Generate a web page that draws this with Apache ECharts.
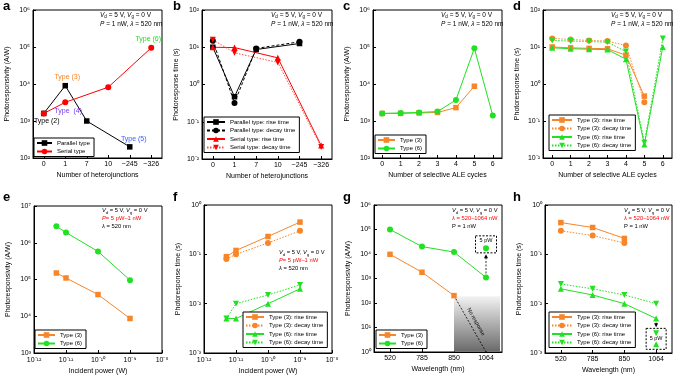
<!DOCTYPE html>
<html><head><meta charset="utf-8">
<script src="https://cdn.jsdelivr.net/npm/echarts@6/dist/echarts.min.js"></script>
<style>html,body{margin:0;padding:0;background:#fff}#c{width:680px;height:382px}</style>
</head><body><div id="c"></div>
<script>
// ---------- DATA ----------
const catsA = ['0', '1', '7', '10', '~245', '~326'];
const aParallel = [1600, 9000, 1000, null, 200, null];
const aSerial = [1600, 3200, null, 8200, null, 95000];
const bParRise = [10, 0.47, 8.7, null, 12.6, null];
const bParDecay = [15, 0.32, 9.3, null, 14, null];
const bSerRise = [10, 9.8, null, 5.2, null, 0.023];
const bSerDecay = [16, 7.1, null, 3.9, null, 0.021];
const catsCD = ['0', '1', '2', '3', '4', '5', '6'];
const cType3 = [1600, 1600, 1650, 1700, 2300, 8700, null];
const cType6 = [1600, 1650, 1700, 1800, 3700, 92000, 1400];
const dT3Rise = [10, 9.5, 9.2, 9, 6, 0.47, null];
const dT3Decay = [17, 16, 15, 14.5, 11, 0.32, null];
const dT6Rise = [9.5, 9, 8.7, 8.5, 4.7, 0.023, 10];
const dT6Decay = [15, 14.5, 14, 13.5, 7.5, 0.026, 17];
const powers = [5e-12, 1e-11, 1e-10, 1e-9];
const eType3 = [1.5e5, 1.1e5, 3.9e4, 8.7e3];
const eType6 = [2.8e6, 1.9e6, 5.8e5, 9.6e4];
const fT3Rise = [0.09, 0.12, 0.23, 0.45];
const fT3Decay = [0.08, 0.10, 0.17, 0.30];
const fT6Rise = [0.005, 0.005, 0.01, 0.02];
const fT6Decay = [0.005, 0.01, 0.015, 0.024];
const waves = ['520', '785', '850', '1064'];
const gType3 = [9700, 1800, 200, null];
const gType6 = [100000, 20000, 12000, 1100];
const gType6Low = [null, null, null, 17000];
const hT3Rise = [0.44, 0.35, 0.21, null];
const hT3Decay = [0.30, 0.24, 0.17, null];
const hT6Rise = [0.02, 0.015, 0.01, 0.005];
const hT6Decay = [0.025, 0.02, 0.015, 0.01];
const hT6RiseLow = [null, null, null, 0.0015];
const hT6DecayLow = [null, null, null, 0.0025];

// ---------- STYLE ----------
const FONT = '"Liberation Sans", Arial, sans-serif';
const ORANGE = '#f7862a', GREEN = '#22e022', RED = '#ff0000', LRED = '#ff5050', BLACK = '#000';
const FS = 7;
const SUP = {'-':'⁻','0':'⁰','1':'¹','2':'²','3':'³','4':'⁴','5':'⁵','6':'⁶','7':'⁷','8':'⁸','9':'⁹'};
const sup = n => String(n).split('').map(c => SUP[c]).join('');
const logFmt = v => '10' + sup(Math.round(Math.log10(v)));

const gridPos = [
  [33, 10, 129, 148], [202, 10, 130, 149], [373, 10, 129, 148], [543, 10, 129, 148],
  [34, 206, 128, 147], [204, 205, 128, 148], [374, 205, 128, 147], [545, 205, 127, 148]
];
const grids = gridPos.map(p => ({left: p[0], top: p[1], width: p[2], height: p[3], show: true,
  borderColor: '#000', borderWidth: 1, backgroundColor: 'transparent'}));

const nameStyle = {fontSize: FS, fontFamily: FONT, color: '#000'};
function baseAxis(gi, name, gap) {
  return {gridIndex: gi, name, nameLocation: 'middle', nameGap: gap, nameTextStyle: nameStyle,
    axisLine: {show: true, onZero: false, lineStyle: {color: '#000', width: 1}},
    axisTick: {show: true, inside: true, length: 3, lineStyle: {color: '#000'}},
    splitLine: {show: false}};
}
function catX(gi, cats, name, gap) {
  const a = baseAxis(gi, name, gap);
  Object.assign(a, {type: 'category', data: cats, boundaryGap: true,
    axisLabel: {fontSize: FS, fontFamily: FONT, color: '#000', margin: 3, interval: 0}});
  a.axisTick.alignWithLabel = true;
  return a;
}
function logAx(gi, min, max, name, gap, margin) {
  const a = baseAxis(gi, name, gap);
  Object.assign(a, {type: 'log', logBase: 10, min, max, splitNumber: Math.round(Math.log10(max / min)),
    axisLabel: {formatter: logFmt, fontSize: FS, fontFamily: FONT, color: '#000', margin: margin,
      showMinLabel: true, showMaxLabel: true}});
  return a;
}
const RESP = 'Photoresponsivity (A/W)', TIME = 'Photoresponse time (s)';
const xAxes = [
  catX(0, catsA, 'Number of heterojunctions', 14),
  catX(1, catsA, 'Number of heterojunctions', 14),
  catX(2, catsCD, 'Number of selective ALE cycles', 14),
  catX(3, catsCD, 'Number of selective ALE cycles', 14),
  logAx(4, 1e-12, 1e-8, 'Incident power (W)', 15, 4),
  logAx(5, 1e-12, 1e-8, 'Incident power (W)', 15, 4),
  catX(6, waves, 'Wavelength (nm)', 14),
  catX(7, waves, 'Wavelength (nm)', 14)
];
const yAxes = [
  logAx(0, 1e2, 1e6, RESP, 22, 3), logAx(1, 1e-2, 1e2, TIME, 22, 3),
  logAx(2, 1e2, 1e6, RESP, 22, 3), logAx(3, 1e-2, 1e2, TIME, 22, 3),
  logAx(4, 1e3, 1e7, RESP, 22, 3), logAx(5, 1e-3, 1e0, TIME, 22, 3),
  logAx(6, 1e0, 1e6, RESP, 22, 3), logAx(7, 1e-3, 1e0, TIME, 22, 3)
];

function ser(name, gi, data, sym, color, lineType, lineColor) {
  return {type: 'line', name, xAxisIndex: gi, yAxisIndex: gi, data, connectNulls: true,
    symbol: sym === 'down' ? 'triangle' : sym, symbolRotate: sym === 'down' ? 180 : 0,
    symbolSize: sym === 'rect' ? 5.5 : 6, itemStyle: {color, opacity: 1},
    lineStyle: {color: lineColor || color, width: 1, type: lineType || 'solid'},
    emphasis: {disabled: true}, animation: false, z: 3};
}
const pairs = (xs, ys) => xs.map((x, i) => [x, ys[i]]);

// panel a labels (annotations attached to points)
const aParLabels = {0: ['Type (2)', '#000', 'bottom', [3, -1]], 1: ['Type (3)', ORANGE, 'top', [2, 0]], 4: ['Type (5)', '#3c5cff', 'top', [4, 0]]};
const aSerLabels = {1: ['Type  (4)', '#7a3cf0', 'bottom', [3, 0]], 5: ['Type (6)', GREEN, 'top', [-3, 0]]};
function withLabels(arr, map) {
  return arr.map((v, i) => map[i] ? {value: v, label: {show: true, formatter: map[i][0], color: map[i][1],
    position: map[i][2], offset: map[i][3], distance: 2, fontSize: FS, fontFamily: FONT}} : v);
}

const series = [
  ser('Parallel type#a', 0, withLabels(aParallel, aParLabels), 'rect', BLACK),
  ser('Serial type#a', 0, withLabels(aSerial, aSerLabels), 'circle', RED),
  ser('Parallel type: rise time#b', 1, bParRise, 'rect', BLACK),
  ser('Parallel type: decay time#b', 1, bParDecay, 'circle', BLACK, [3, 2]),
  ser('Serial type: rise time#b', 1, bSerRise, 'triangle', RED),
  ser('Serial type: decay time#b', 1, bSerDecay, 'down', RED, [1.5, 1.5], LRED),
  ser('Type (3)#c', 2, cType3, 'rect', ORANGE),
  ser('Type (6)#c', 2, cType6, 'circle', GREEN),
  ser('Type (3): rise time#d', 3, dT3Rise, 'rect', ORANGE),
  ser('Type (3): decay time#d', 3, dT3Decay, 'circle', ORANGE, [1.5, 1.5]),
  ser('Type (6): rise time#d', 3, dT6Rise, 'triangle', GREEN),
  ser('Type (6): decay time#d', 3, dT6Decay, 'down', GREEN, [1.5, 1.5]),
  ser('Type (3)#e', 4, pairs(powers, eType3), 'rect', ORANGE),
  ser('Type (6)#e', 4, pairs(powers, eType6), 'circle', GREEN),
  ser('Type (3): rise time#f', 5, pairs(powers, fT3Rise), 'rect', ORANGE),
  ser('Type (3): decay time#f', 5, pairs(powers, fT3Decay), 'circle', ORANGE, [1.5, 1.5]),
  ser('Type (6): rise time#f', 5, pairs(powers, fT6Rise), 'triangle', GREEN),
  ser('Type (6): decay time#f', 5, pairs(powers, fT6Decay), 'down', GREEN, [1.5, 1.5]),
  ser('Type (3)#g', 6, gType3, 'rect', ORANGE),
  ser('Type (6)#g', 6, gType6, 'circle', GREEN),
  ser('low6#g', 6, gType6Low, 'circle', GREEN),
  ser('Type (3): rise time#h', 7, hT3Rise, 'rect', ORANGE),
  ser('Type (3): decay time#h', 7, hT3Decay, 'circle', ORANGE, [1.5, 1.5]),
  ser('Type (6): rise time#h', 7, hT6Rise, 'triangle', GREEN),
  ser('Type (6): decay time#h', 7, hT6Decay, 'down', GREEN, [1.5, 1.5]),
  ser('lowR#h', 7, hT6RiseLow, 'triangle', GREEN),
  ser('lowD#h', 7, hT6DecayLow, 'down', GREEN)
];

function legend(left, top, names, iw) {
  return {left, top, orient: 'vertical', data: names, borderColor: '#000', borderWidth: 1,
    backgroundColor: '#fff', padding: [2, 4, 2, 2], itemGap: 2.5, itemWidth: iw, itemHeight: 7,
    textStyle: {fontSize: 6, fontFamily: FONT, color: '#000'}, formatter: n => n.split('#')[0],
    selectedMode: false, z: 5};
}
const rtNames = s => ['Type (3): rise time' + s, 'Type (3): decay time' + s, 'Type (6): rise time' + s, 'Type (6): decay time' + s];
const legends = [
  legend(34, 138, ['Parallel type#a', 'Serial type#a'], 15),
  legend(204, 117, ['Parallel type: rise time#b', 'Parallel type: decay time#b', 'Serial type: rise time#b', 'Serial type: decay time#b'], 18),
  legend(375, 135, ['Type (3)#c', 'Type (6)#c'], 17),
  legend(549, 115, rtNames('#d'), 20),
  legend(35, 330, ['Type (3)#e', 'Type (6)#e'], 17),
  legend(243, 312, rtNames('#f'), 18),
  legend(376, 330, ['Type (3)#g', 'Type (6)#g'], 17),
  legend(549, 312, rtNames('#h'), 20)
];

// ---------- TEXT GRAPHICS ----------
function mkRich(af, alh) {
  return {
    i: {fontStyle: 'italic', fontSize: af, fontFamily: FONT, lineHeight: alh},
    s: {fontSize: af * 0.7, fontFamily: FONT, lineHeight: af * 0.75, verticalAlign: 'bottom'},
    r: {fontSize: af, fontFamily: FONT, lineHeight: alh, fill: RED, color: RED},
    ri: {fontSize: af, fontFamily: FONT, lineHeight: alh, fontStyle: 'italic', fill: RED, color: RED}
  };
}
const L1 = '{i|V}{s|d} = 5 V, {i|V}{s|g} = 0 V';
function annot(x, y, lines, af) {
  const alh = af * 1.32;
  return {type: 'text', x, y, z: 10, style: {text: lines.join('\n'), fontSize: af, fontFamily: FONT,
    lineHeight: alh, fill: '#000', rich: mkRich(af, alh)}};
}
const texts = [];
['a', 'b', 'c', 'd', 'e', 'f', 'g', 'h'].forEach((l, i) => {
  texts.push({type: 'text', x: 3 + (i % 4) * 170, y: i < 4 ? 0 : 191, z: 10,
    style: {text: l, fontSize: 13, fontWeight: 'bold', fontFamily: FONT, fill: '#000'}});
});
const topLines = [L1, '{i|P} = 1 nW, {i|λ} = 520 nm'];
texts.push(annot(100, 11, topLines, 6.5), annot(271, 11, topLines, 6.5), annot(441, 11, topLines, 6.5), annot(611, 11, topLines, 6.5));
const powLines = [L1, '{ri|P}{r|= 5 pW–1 nW}', '{i|λ} = 520 nm'];
texts.push(annot(102, 207, powLines, 5.8), annot(279, 249, powLines, 5.8));
const waveLines = [L1, '{ri|λ}{r| = 520–1064 nW}', 'P = 1 nW'];
texts.push(annot(452, 207, waveLines, 5.8), annot(624, 207, waveLines, 5.8));

const chart = echarts.init(document.getElementById('c'), null, {renderer: 'canvas'});
chart.setOption({
  animation: false, backgroundColor: '#fff',
  textStyle: {fontFamily: FONT},
  grid: grids, xAxis: xAxes, yAxis: yAxes, legend: legends, series,
  graphic: {elements: texts}
});

// ---------- PIXEL-BASED DECORATIONS (via library scales) ----------
const P = (gi, xv, yv) => chart.convertToPixel({gridIndex: gi}, [xv, yv]);
const dash = {stroke: '#000', lineWidth: 1, lineDash: [2, 1.5], fill: null};
const extra = [];
// panel g shading, no-response line
(function () {
  const gp = gridPos[6];
  const tl = P(6, 2, 190), bl = P(6, 2, 1);
  const right = gp[0] + gp[2] - 2;
  extra.push({type: 'rect', z: 1, shape: {x: tl[0], y: tl[1], width: right - tl[0], height: bl[1] - tl[1] - 0.5},
    style: {fill: new echarts.graphic.LinearGradient(0, 0, 0, 1, [{offset: 0, color: '#f3f3f3'}, {offset: 1, color: '#6a6a6a'}])}});
  const s = P(6, 2, 200), e = P(6, 2.79, 1);
  extra.push({type: 'line', z: 2, shape: {x1: s[0], y1: s[1], x2: e[0], y2: e[1]}, style: {stroke: '#000', lineWidth: 0.8, lineDash: [2, 1.5]}});
  const mx = (s[0] + e[0]) / 2 + 6, my = (s[1] + e[1]) / 2 - 2;
  extra.push({type: 'text', z: 10, x: mx, y: my, rotation: -Math.atan2(e[1] - s[1], e[0] - s[0]),
    style: {text: 'No response', fontSize: 5.5, fontFamily: FONT, fill: '#000', align: 'center', verticalAlign: 'middle'}});
  const pt = P(6, 3, gType6Low[3]);
  extra.push({type: 'rect', z: 10, shape: {x: pt[0] - 10.5, y: pt[1] - 12.5, width: 21, height: 17}, style: Object.assign({}, dash)});
  extra.push({type: 'text', z: 10, x: pt[0], y: pt[1] - 7.5, style: {text: '5 pW', fontSize: 5.5, fontFamily: FONT, fill: '#000', align: 'center', verticalAlign: 'middle'}});
  const from = P(6, 3, gType6[3]);
  const topY = pt[1] + 6;
  extra.push({type: 'line', z: 10, shape: {x1: from[0], y1: from[1] - 4, x2: from[0], y2: topY + 3}, style: {stroke: '#000', lineWidth: 0.8, lineDash: [2, 1.5]}});
  extra.push({type: 'polygon', z: 10, shape: {points: [[from[0] - 2, topY + 4], [from[0] + 2, topY + 4], [from[0], topY]]}, style: {fill: '#000'}});
})();
// panel h box
(function () {
  const lo = P(7, 3, hT6RiseLow[3]), hi = P(7, 3, hT6DecayLow[3]);
  extra.push({type: 'rect', z: 10, shape: {x: lo[0] - 10, y: hi[1] - 5, width: 20, height: lo[1] - hi[1] + 10}, style: Object.assign({}, dash)});
  extra.push({type: 'text', z: 10, x: lo[0], y: (lo[1] + hi[1]) / 2, style: {text: '5 pW', fontSize: 5.5, fontFamily: FONT, fill: '#000', align: 'center', verticalAlign: 'middle'}});
  const from = P(7, 3, hT6Rise[3]);
  const botY = hi[1] - 6;
  extra.push({type: 'line', z: 10, shape: {x1: from[0], y1: from[1] + 4, x2: from[0], y2: botY - 3}, style: {stroke: '#000', lineWidth: 0.8, lineDash: [2, 1.5]}});
  extra.push({type: 'polygon', z: 10, shape: {points: [[from[0] - 2, botY - 4], [from[0] + 2, botY - 4], [from[0], botY]]}, style: {fill: '#000'}});
})();
chart.setOption({graphic: {elements: texts.concat(extra)}});
</script></body></html>
